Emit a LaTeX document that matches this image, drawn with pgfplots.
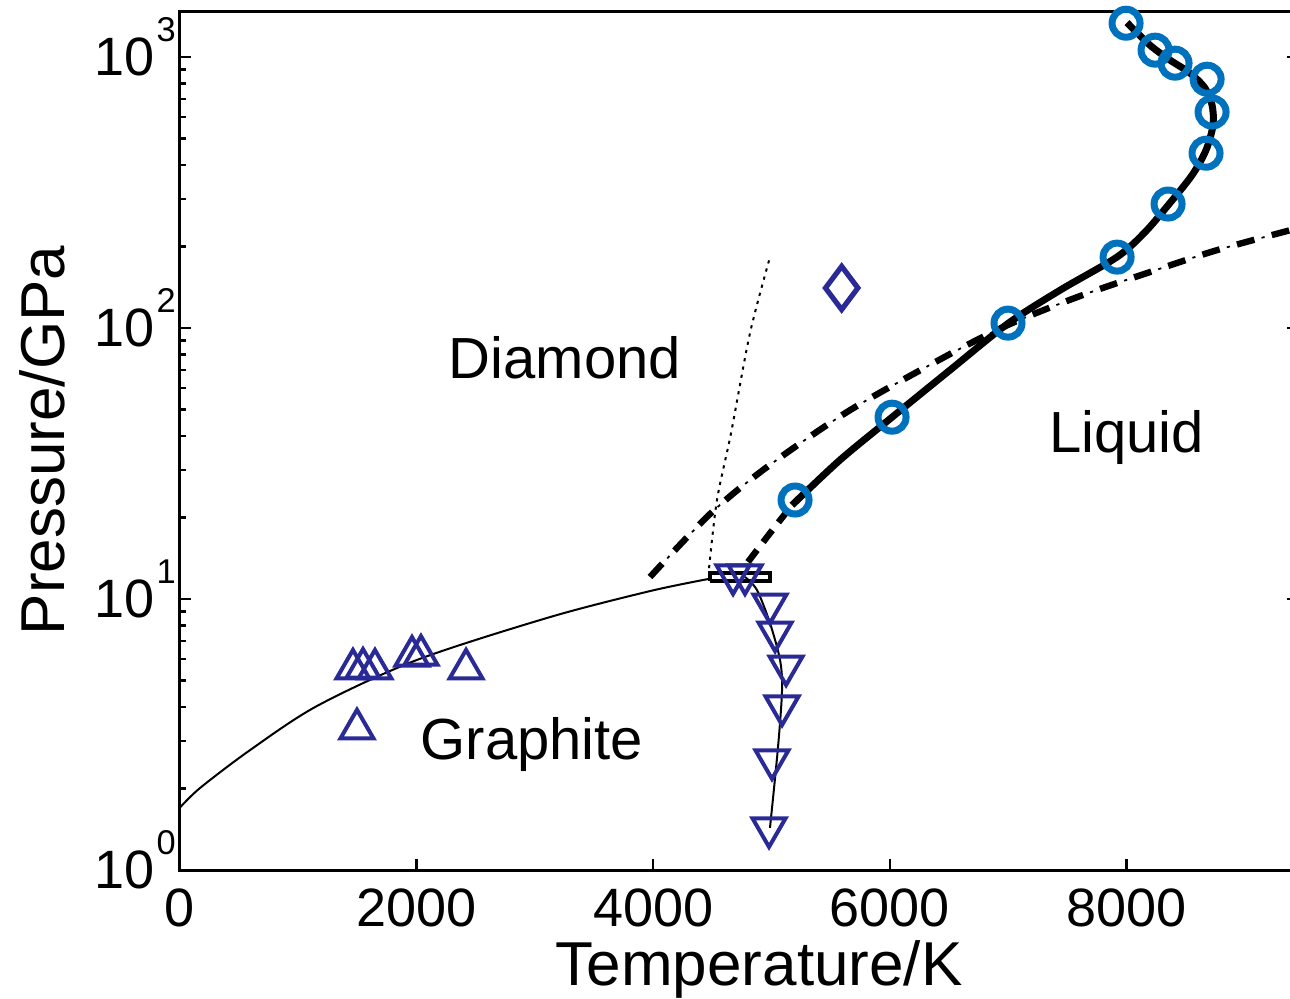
\documentclass[border=0pt]{standalone}
\usepackage{fontspec}
\setmainfont{Liberation Sans}
\usepackage{pgfplots}
\pgfplotsset{compat=1.18}

\definecolor{liqblue}{RGB}{0,114,189}
\definecolor{expnavy}{RGB}{42,42,150}

% decade tick label: 10 with a raised exponent that does not affect centring
\newcommand\decade[1]{10\kern0.6pt\smash{\raisebox{8.6pt}{\fontsize{8.6pt}{9pt}\selectfont #1}}}

\begin{document}
\begin{tikzpicture}
\begin{axis}[
  at={(0,0)}, anchor=south west,
  scale only axis, width=279.5pt, height=214.75pt,
  xmin=0, xmax=9450,
  ymode=log, ymin=1, ymax=1480,
  xtick={0,2000,4000,6000,8000}, xtick pos=bottom,
  ytick={1,10,100,1000},
  yticklabels={\decade{0},\decade{1},\decade{2},\decade{3}},
  tick align=inside,
  major tick length=2.75pt, minor tick length=1.5pt,
  axis line style={line width=0.75pt},
  every tick/.style={black, line width=0.6pt},
  tick label style={font=\fontsize{13.5pt}{14pt}\selectfont},
  xticklabel style={yshift=-1.25pt},
  yticklabel style={xshift=2.5pt},
  /pgf/number format/1000 sep={},
  /pgf/number format/assume math mode=true,
  xlabel={Temperature/K}, ylabel={Pressure/GPa},
  label style={font=\fontsize{15.5pt}{16pt}\selectfont},
  xlabel style={at={(axis description cs:0.518,-0.134)}, anchor=base},
  ylabel style={at={(axis description cs:-0.103,0.5)}, anchor=base},
]

% experimental graphite points
\addplot[only marks, mark=triangle, mark size=4.75pt, expnavy,
  mark options={line width=1pt}] coordinates {
  (1462,5.52) (1547,5.56) (1648,5.52) (1961,6.16) (2037,6.21) (2418,5.52) (1496,3.32)};

% melting points of graphite
\addplot[only marks, mark=triangle, mark size=4.75pt, expnavy,
  mark options={line width=1pt, rotate=180}] coordinates {
  (4675,12.27) (4776,12.27) (4987,9.58) (5030,7.55) (5123,5.66)
  (5089,4.03) (5004,2.55) (4979,1.43)};

% diamond point
\addplot[only marks, mark=diamond, mark size=5.4pt, expnavy,
  mark options={line width=1.3pt}] coordinates {(5593,140.6)};

% simulated liquid points
\addplot[only marks, mark=o, mark size=3.5pt, liqblue,
  mark options={line width=1.75pt}] coordinates {
  (5199,23.2) (6019,46.9) (6999,104.3) (7921,182.8) (8352,287) (8673,442)
  (8724,627) (8682,829) (8411,950) (8242,1061) (7997,1334)};

% graphite--diamond boundary
\addplot[black, line width=0.5pt, smooth] coordinates {
  (0,1.70) (169,2.007) (592,2.77) (1158,4.03) (2003,5.96) (3128,8.58)
  (3973,10.7) (4463,11.85)};

% graphite melting line
\addplot[black, line width=0.5pt, smooth] coordinates {
  (4776,12.06) (4877,10.8) (4987,8.15) (5072,5.96) (5089,4.62)
  (5055,2.84) (4987,1.43)};

% metastable extension (dotted)
\addplot[black, line width=0.5pt, dash pattern=on 0.8pt off 1.3pt, smooth] coordinates {
  (4472,13.0) (4539,23.2) (4658,41.0) (4818,95.8) (4987,182.8)};

% dash-dot boundary: thick dashes and thin ticks on the same path
\addplot[black, line width=1.6pt, dash pattern=on 4.5pt off 4.5pt, smooth] coordinates {
  (3973,12.06) (4480,20.6) (4962,30.7) (5664,49.8) (6509,80.2) (7016,103.5)
  (7608,131.3) (8199,161) (8766,194) (9450,233.8)};
\addplot[black, line width=0.45pt, dash pattern=on 0pt off 6.35pt on 0.8pt off 1.85pt, smooth] coordinates {
  (3973,12.06) (4480,20.6) (4962,30.7) (5664,49.8) (6509,80.2) (7016,103.5)
  (7608,131.3) (8199,161) (8766,194) (9450,233.8)};

% dashed lower part of the melting curve
\addplot[black, line width=1.6pt, dash pattern=on 3.75pt off 2.5pt, smooth] coordinates {
  (4801,13.7) (4987,17.5) (5173,22.2)};

% diamond melting curve
\addplot[black, line width=1.75pt, smooth] coordinates {
  (5173,22.2) (5579,32.6) (6019,46.9) (6509,70.0) (6999,104) (7439,138)
  (7921,183) (8157,226) (8352,284) (8555,367) (8673,454) (8732,561)
  (8724,665) (8664,769) (8538,873) (8369,975) (8199,1107) (8005,1340)};

% triple point range
\addplot[black, line width=1pt, line join=miter] coordinates {
  (4480,11.65) (4987,11.65) (4987,12.47) (4480,12.47) (4480,11.65)};

\node[font=\fontsize{14.5pt}{15pt}\selectfont, anchor=base] at (axis cs:3254,65.4) {Diamond};
\node[font=\fontsize{14.5pt}{15pt}\selectfont, anchor=base] at (axis cs:8001,34.6) {Liquid};
\node[font=\fontsize{14.5pt}{15pt}\selectfont, anchor=base] at (axis cs:2975,2.55) {Graphite};
\end{axis}
\pgfresetboundingbox
\useasboundingbox (-45pt,-32.25pt) rectangle (277.5pt,217.5pt);
\end{tikzpicture}
\end{document}
